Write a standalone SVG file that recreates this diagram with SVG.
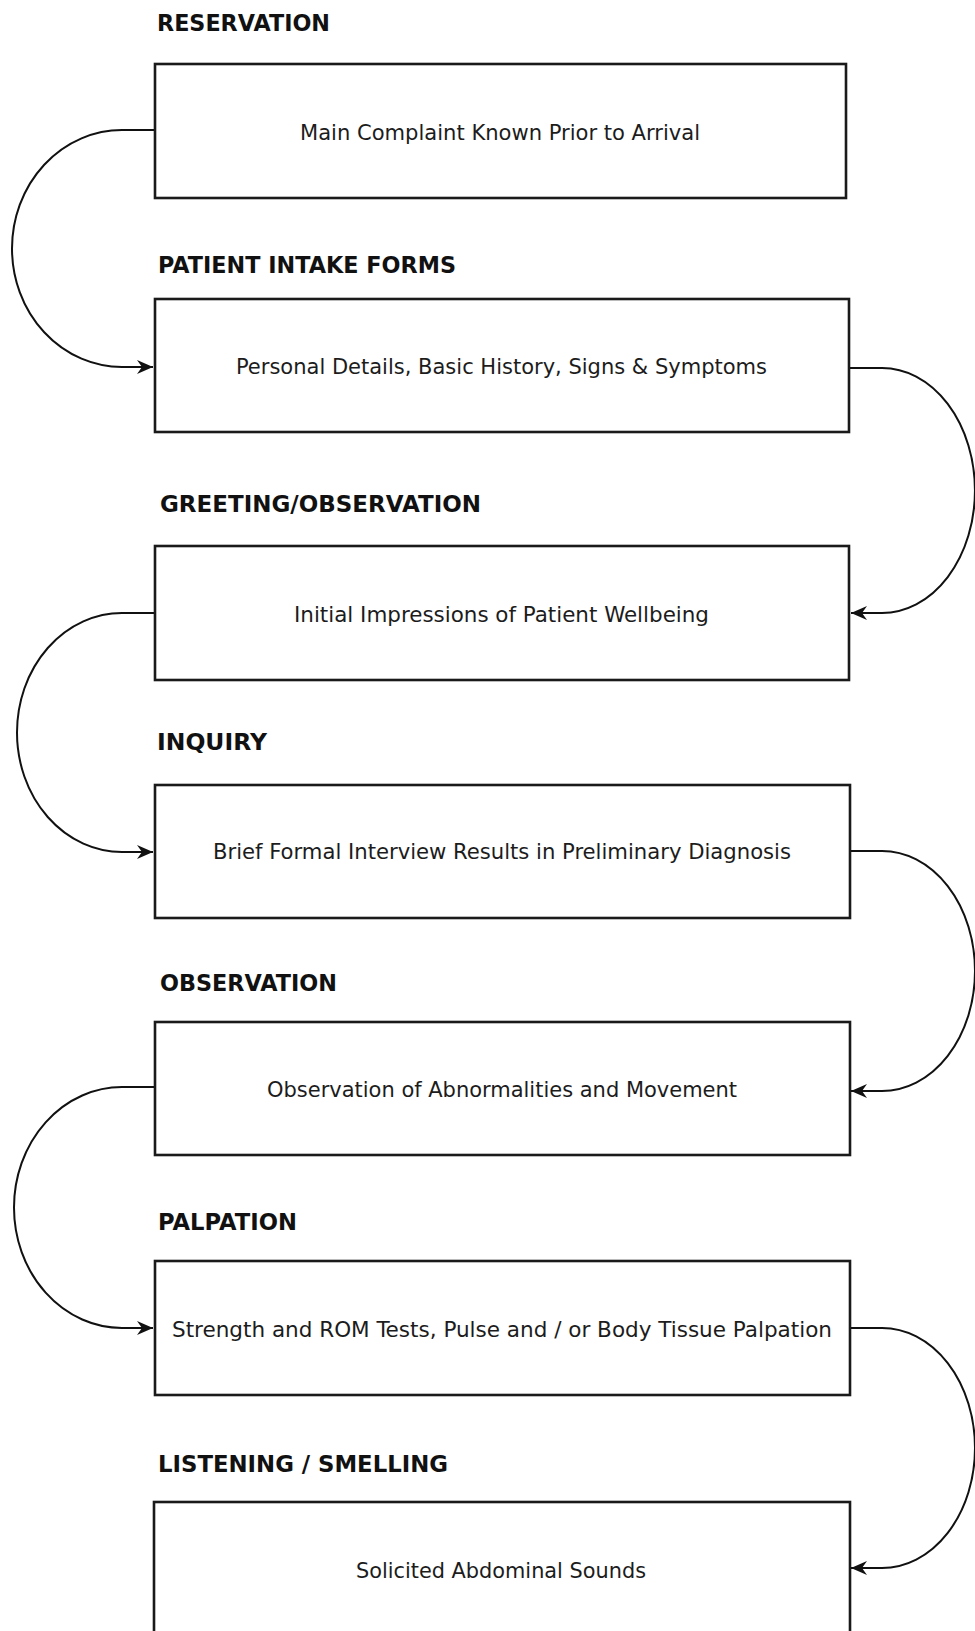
<svg xmlns="http://www.w3.org/2000/svg" width="975" height="1631" viewBox="0 0 975 1631">
  <style>
    .box { fill: #ffffff; stroke: #1a1a1a; stroke-width: 2.6; }
    .stage { font-family: "DejaVu Sans", "Liberation Sans", sans-serif; font-weight: bold; font-size: 23px; fill: #111111; }
    .body { font-family: "DejaVu Sans Condensed", "DejaVu Sans", "Liberation Sans", sans-serif; font-size: 21px; fill: #1c1c1c; text-anchor: middle; }
    .flow { fill: none; stroke: #111111; stroke-width: 2; }
  </style>
  <defs>
    <marker id="barb" viewBox="-16 -8 17 16" refX="0" refY="0" markerWidth="17" markerHeight="16" markerUnits="userSpaceOnUse" orient="auto">
      <path d="M0,0 L-16,-7 L-11,0 L-16,7 Z" fill="#111111"/>
    </marker>
  </defs>
  <rect width="975" height="1631" fill="#ffffff"/>

  <g id="connectors">
    <path class="flow" marker-end="url(#barb)" d="M154,130 H122 A110,118.5 0 0 0 122,367 H153"/>
    <path class="flow" marker-end="url(#barb)" d="M849,368 H882 A93,122.5 0 0 1 882,613 H851"/>
    <path class="flow" marker-end="url(#barb)" d="M154,613 H122 A105,119.5 0 0 0 122,852 H153"/>
    <path class="flow" marker-end="url(#barb)" d="M850,851 H882 A93,120 0 0 1 882,1091 H851"/>
    <path class="flow" marker-end="url(#barb)" d="M154,1087 H122 A108,120.5 0 0 0 122,1328 H153"/>
    <path class="flow" marker-end="url(#barb)" d="M850,1328 H882 A93,120 0 0 1 882,1568 H851"/>
  </g>

  <g id="reservation">
    <text class="stage" x="157" y="31" textLength="173" lengthAdjust="spacingAndGlyphs">RESERVATION</text>
    <rect class="box" x="155" y="64" width="691" height="134"/>
    <text class="body" x="500" y="140" textLength="400" lengthAdjust="spacingAndGlyphs">Main Complaint Known Prior to Arrival</text>
  </g>

  <g id="intake-forms">
    <text class="stage" x="158" y="273" textLength="298" lengthAdjust="spacingAndGlyphs">PATIENT INTAKE FORMS</text>
    <rect class="box" x="155" y="299" width="694" height="133"/>
    <text class="body" x="501.5" y="374" textLength="531" lengthAdjust="spacingAndGlyphs">Personal Details, Basic History, Signs &amp; Symptoms</text>
  </g>

  <g id="greeting">
    <text class="stage" x="160" y="512" textLength="321" lengthAdjust="spacingAndGlyphs">GREETING/OBSERVATION</text>
    <rect class="box" x="155" y="546" width="694" height="134"/>
    <text class="body" x="501.5" y="622" textLength="415" lengthAdjust="spacingAndGlyphs">Initial Impressions of Patient Wellbeing</text>
  </g>

  <g id="inquiry">
    <text class="stage" x="157" y="750" textLength="110" lengthAdjust="spacingAndGlyphs">INQUIRY</text>
    <rect class="box" x="155" y="785" width="695" height="133"/>
    <text class="body" x="502" y="859" textLength="578" lengthAdjust="spacingAndGlyphs">Brief Formal Interview Results in Preliminary Diagnosis</text>
  </g>

  <g id="observation">
    <text class="stage" x="160" y="991" textLength="177" lengthAdjust="spacingAndGlyphs">OBSERVATION</text>
    <rect class="box" x="155" y="1022" width="695" height="133"/>
    <text class="body" x="502" y="1097" textLength="470" lengthAdjust="spacingAndGlyphs">Observation of Abnormalities and Movement</text>
  </g>

  <g id="palpation">
    <text class="stage" x="158" y="1230" textLength="139" lengthAdjust="spacingAndGlyphs">PALPATION</text>
    <rect class="box" x="155" y="1261" width="695" height="134"/>
    <text class="body" x="502" y="1337" textLength="660" lengthAdjust="spacingAndGlyphs">Strength and ROM Tests, Pulse and / or Body Tissue Palpation</text>
  </g>

  <g id="listening">
    <text class="stage" x="158" y="1472" textLength="290" lengthAdjust="spacingAndGlyphs">LISTENING / SMELLING</text>
    <rect class="box" x="154" y="1502" width="696" height="150"/>
    <text class="body" x="501" y="1578" textLength="290" lengthAdjust="spacingAndGlyphs">Solicited Abdominal Sounds</text>
  </g>
</svg>
